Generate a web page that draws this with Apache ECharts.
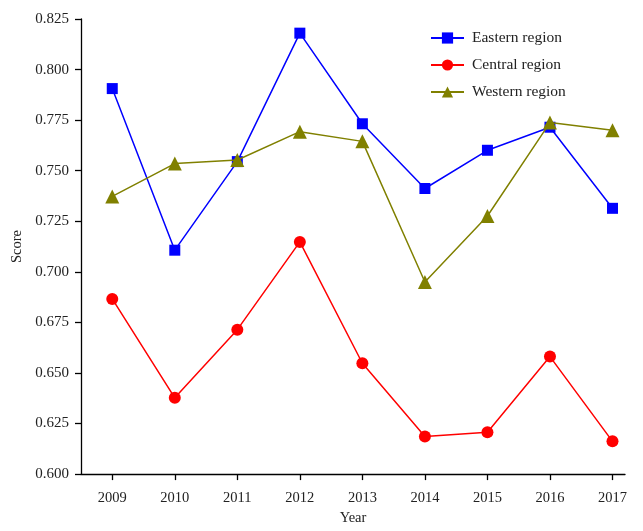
<!DOCTYPE html>
<html><head><meta charset="utf-8">
<script src="https://cdn.jsdelivr.net/npm/echarts@6/dist/echarts.min.js"></script>
<style>html,body{margin:0;padding:0;background:#fff;overflow:hidden;width:100%;height:100%}#c{width:100vw;height:100vh}</style>
</head><body><div id="c"></div>
<script>
const years = [2009, 2010, 2011, 2012, 2013, 2014, 2015, 2016, 2017];
const eastern = [0.7906, 0.7107, 0.7545, 0.8180, 0.7732, 0.7412, 0.7601, 0.7715, 0.7314];
const central = [0.6866, 0.6377, 0.6714, 0.7148, 0.6548, 0.6186, 0.6207, 0.6581, 0.6162];
const western = [0.7373, 0.7535, 0.7553, 0.7693, 0.7645, 0.6950, 0.7276, 0.7738, 0.7700];
const yTicks = [0.600, 0.625, 0.650, 0.675, 0.700, 0.725, 0.750, 0.775, 0.800, 0.825];

const font = '"Liberation Serif", "DejaVu Serif", serif';
const pair = arr => years.map((y, i) => [y, arr[i]]);
const chart = echarts.init(document.getElementById('c'), null, {renderer: 'canvas'});
chart.setOption({
  animation: false,
  backgroundColor: '#fff',
  textStyle: {fontFamily: font},
  grid: {left: 81, right: 18, top: 19, bottom: 43, containLabel: false},
  legend: {
    orient: 'vertical', left: 425, top: 25, itemGap: 11,
    itemWidth: 33, itemHeight: 14,
    textStyle: {fontFamily: font, fontSize: 15.5, color: '#222', padding: [0, 0, 0, 3]},
    data: ['Eastern region', 'Central region', 'Western region']
  },
  xAxis: {
    type: 'value', min: 2008.5, max: 2017.2,
    name: 'Year', nameLocation: 'middle', nameGap: 36,
    nameTextStyle: {fontFamily: font, fontSize: 14.5, color: '#222'},
    axisLine: {show: true, onZero: false, lineStyle: {color: '#000', width: 1.3}},
    axisTick: {show: true, length: 6, customValues: years, lineStyle: {color: '#000', width: 1.3}},
    axisLabel: {customValues: years, margin: 17, fontFamily: font, fontSize: 14.5, color: '#222', formatter: v => String(Math.round(v))},
    splitLine: {show: false}
  },
  yAxis: {
    type: 'value', min: 0.6, max: 0.825, interval: 0.025,
    name: 'Score', nameLocation: 'middle', nameGap: 46, nameRotate: 90,
    nameTextStyle: {fontFamily: font, fontSize: 14.5, color: '#222'},
    axisLine: {show: true, lineStyle: {color: '#000', width: 1.3}},
    axisTick: {show: true, length: 6, lineStyle: {color: '#000', width: 1.3}},
    axisLabel: {margin: 12, fontFamily: font, fontSize: 15, color: '#222', formatter: v => v.toFixed(3)},
    splitLine: {show: false}
  },
  series: [
    {name: 'Eastern region', type: 'line', data: pair(eastern), symbol: 'rect', symbolSize: 11,
     itemStyle: {color: '#0000ff'}, lineStyle: {color: '#0000ff', width: 1.5}, z: 3},
    {name: 'Central region', type: 'line', data: pair(central), symbol: 'circle', symbolSize: 12,
     itemStyle: {color: '#ff0000'}, lineStyle: {color: '#ff0000', width: 1.5}, z: 2},
    {name: 'Western region', type: 'line', data: pair(western), symbol: 'triangle', symbolSize: 14,
     itemStyle: {color: '#808000'}, lineStyle: {color: '#808000', width: 1.5}, z: 4}
  ]
});
</script></body></html>
